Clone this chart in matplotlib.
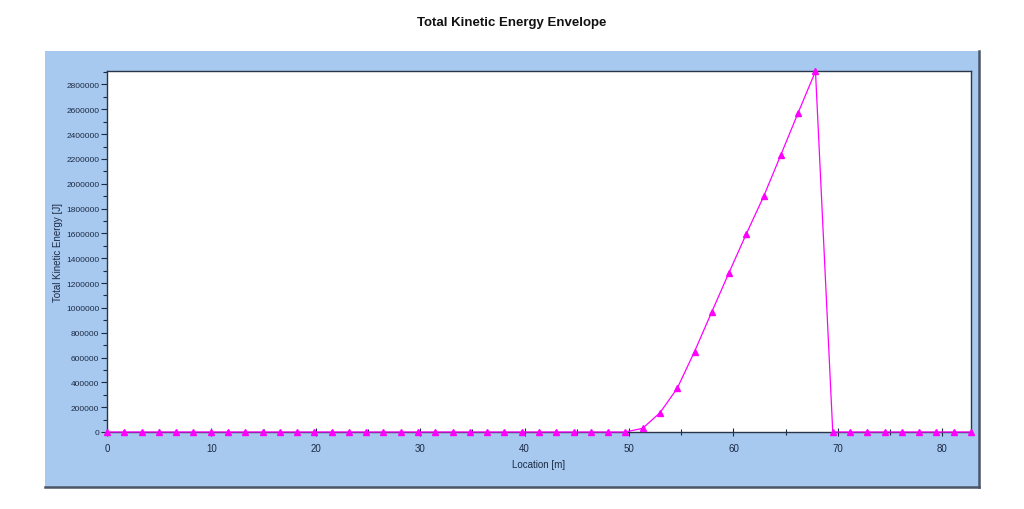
import matplotlib
matplotlib.use("Agg")
import matplotlib.pyplot as plt
from matplotlib.patches import Rectangle
from matplotlib.lines import Line2D
from matplotlib.ticker import MultipleLocator, FuncFormatter

location_m = [0.0, 1.655, 3.31, 4.965, 6.62, 8.275, 9.93, 11.585, 13.24, 14.895,
              16.55, 18.205, 19.86, 21.515, 23.17, 24.825, 26.48, 28.135, 29.79, 31.445,
              33.1, 34.755, 36.41, 38.065, 39.72, 41.375, 43.03, 44.685, 46.34, 47.995,
              49.65, 51.305, 52.96, 54.615, 56.27, 57.925, 59.58, 61.235, 62.89, 64.545,
              66.2, 67.855, 69.51, 71.165, 72.82, 74.475, 76.13, 77.785, 79.44, 81.095,
              82.75]
energy_J = [0] * 31 + [30000, 155000, 352000, 648000, 968000, 1285000, 1597000,
                       1898000, 2234000, 2573000, 2906000] + [0] * 9

title = "Total Kinetic Energy Envelope"
xlabel = "Location [m]"
ylabel = "Total Kinetic Energy [J]"

plt.rcParams['font.family'] = ['Liberation Sans', 'DejaVu Sans']

W, H = 1024, 510
fig = plt.figure(figsize=(W / 100, H / 100), dpi=100)
fig.patch.set_facecolor('white')

# blue panel
px0, px1, py0, py1 = 45, 979, 52, 488
fig.patches.append(Rectangle((px0 / W, 1 - py1 / H), (px1 - px0) / W, (py1 - py0) / H,
                             transform=fig.transFigure, facecolor='#A7C9EF',
                             edgecolor='none', zorder=0))
# shadow edges
fig.lines.append(Line2D([px1 / W, px1 / W], [1 - py1 / H, 1 - py0 / H],
                        transform=fig.transFigure, color='#4a5566', lw=1.8, zorder=1))
fig.lines.append(Line2D([px0 / W, px1 / W], [1 - py1 / H, 1 - py1 / H],
                        transform=fig.transFigure, color='#4a5566', lw=1.8, zorder=1))

ax = fig.add_axes([107 / W, 1 - 433 / H, (971 - 107) / W, (433 - 72.3) / H])
ax.set_zorder(5)
ax.set_facecolor('white')
ax.plot(location_m, energy_J, color='#FF00FF', lw=0.9, marker='^', markersize=4.2,
        markerfacecolor='#FF00FF', markeredgecolor='#FF00FF', clip_on=False, zorder=3)

ax.set_xlim(0, location_m[-1])
ax.set_ylim(0, max(energy_J))

ax.xaxis.set_major_locator(MultipleLocator(10))
ax.xaxis.set_minor_locator(MultipleLocator(5))
ax.yaxis.set_major_locator(MultipleLocator(200000))
ax.yaxis.set_minor_locator(MultipleLocator(100000))
ax.yaxis.set_major_formatter(FuncFormatter(lambda v, p: f"{int(round(v))}"))

tc = '#1c2a44'
ax.tick_params(axis='y', which='major', direction='out', length=4, width=0.8,
               labelsize=6, colors=tc, pad=1.5)
ax.tick_params(axis='y', which='minor', direction='out', length=3, width=0.8, colors=tc)
ax.tick_params(axis='x', which='major', direction='inout', length=6, width=0.8,
               labelsize=7, colors=tc, pad=5)
ax.tick_params(axis='x', which='minor', direction='inout', length=5, width=0.8, colors=tc)

for s in ax.spines.values():
    s.set_color('#2a3548')
    s.set_linewidth(1.0)

ax.set_xlabel(xlabel, fontsize=7, color=tc, labelpad=4)
ax.set_ylabel(ylabel, fontsize=7, color=tc)
ax.yaxis.set_label_coords((63 - 107) / 864, 0.5)

fig.text(512 / W, 1 - 23 / H, title, ha='center', va='center', fontsize=9.5,
         fontweight='bold', color='#111111')

fig.savefig('out.png', dpi=100, facecolor='white')
